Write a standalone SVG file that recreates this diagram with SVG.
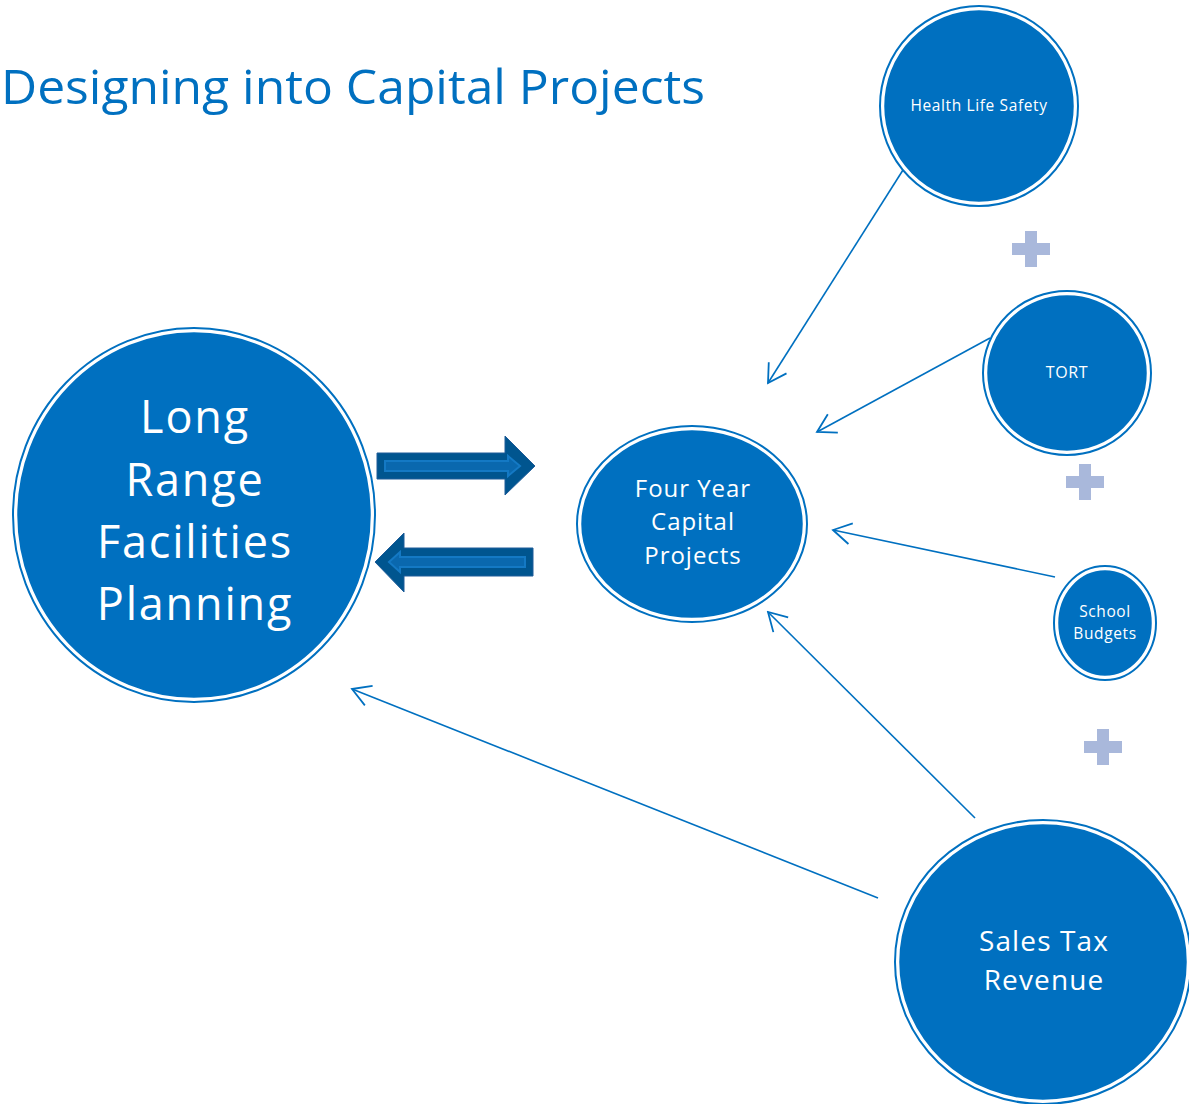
<svg xmlns="http://www.w3.org/2000/svg" width="1189" height="1104" viewBox="0 0 1189 1104">
  <defs>
    <style>
      .node-fill { fill: #0070C0; stroke: #FFFFFF; stroke-width: 2.5; }
      .node-ring { fill: none; stroke: #0070C0; stroke-width: 2; }
      .lbl { fill: #FFFFFF; font-family: "Open Sans", "DejaVu Sans", sans-serif; text-anchor: middle; letter-spacing: 0.04em; }
      .conn { fill: none; stroke: #0070C0; stroke-width: 1.6; marker-end: url(#openArrow); }
      .plus { fill: #A9B8DB; }
      .block { fill: #00558F; stroke: #1F5C99; stroke-width: 1; }
      .block-inner { fill: #0A68AE; stroke: #1479C4; stroke-width: 2; }
    </style>
    <marker id="openArrow" markerUnits="userSpaceOnUse" markerWidth="24" markerHeight="24" viewBox="0 0 24 24" refX="22" refY="12" orient="auto">
      <path d="M4,1.5 L22,12 L4,22.5" fill="none" stroke="#0070C0" stroke-width="1.8"/>
    </marker>
  </defs>
  <rect width="1189" height="1104" fill="#FFFFFF"/>

  <text x="1" y="104" font-family="Open Sans, DejaVu Sans, sans-serif" font-size="48" fill="#0070C0" textLength="704" lengthAdjust="spacingAndGlyphs">Designing into Capital Projects</text>

  <g id="connectors">
    <line class="conn" x1="903" y1="170" x2="768" y2="383"/>
    <line class="conn" x1="990" y1="338" x2="817" y2="432"/>
    <line class="conn" x1="1055" y1="577" x2="833" y2="530"/>
    <line class="conn" x1="975" y1="818" x2="768" y2="612"/>
    <line class="conn" x1="878" y1="898" x2="352" y2="689"/>
    <g id="arrow-right">
      <polygon class="block" points="377,453 505,453 505,436 535,466 505,495 505,479 377,479"/>
      <polygon class="block-inner" points="385,461 508,461 508,456 520,466 508,476 508,471 385,471"/>
    </g>
    <g id="arrow-left">
      <polygon class="block" points="533,548 404,548 404,533 375,562 404,592 404,576 533,576"/>
      <polygon class="block-inner" points="525,557 400,557 400,552 389,562 400,572 400,567 525,567"/>
    </g>
  </g>

  <g id="node-long-range">
    <ellipse class="node-ring" cx="194" cy="515" rx="181" ry="187"/>
    <ellipse class="node-fill" cx="194" cy="515" rx="178" ry="184"/>
    <text class="lbl" font-size="45" x="195" y="433">Long</text>
    <text class="lbl" font-size="45" x="195" y="496">Range</text>
    <text class="lbl" font-size="45" x="195" y="558">Facilities</text>
    <text class="lbl" font-size="45" x="195" y="620">Planning</text>
  </g>

  <g id="node-four-year">
    <ellipse class="node-ring" cx="692" cy="524" rx="115" ry="98"/>
    <ellipse class="node-fill" cx="692" cy="524" rx="112" ry="95"/>
    <text class="lbl" font-size="24" x="693" y="497">Four Year</text>
    <text class="lbl" font-size="24" x="693" y="530">Capital</text>
    <text class="lbl" font-size="24" x="693" y="564">Projects</text>
  </g>

  <g id="node-health">
    <ellipse class="node-ring" cx="979" cy="106" rx="99" ry="100"/>
    <ellipse class="node-fill" cx="979" cy="106" rx="96" ry="97"/>
    <text class="lbl" font-size="15.5" x="979" y="111">Health Life Safety</text>
  </g>

  <g id="node-tort">
    <ellipse class="node-ring" cx="1067" cy="373" rx="84" ry="82"/>
    <ellipse class="node-fill" cx="1067" cy="373" rx="81" ry="79"/>
    <text class="lbl" font-size="16" x="1067" y="378">TORT</text>
  </g>

  <g id="node-school">
    <ellipse class="node-ring" cx="1105" cy="623" rx="51" ry="57"/>
    <ellipse class="node-fill" cx="1105" cy="623" rx="48" ry="54"/>
    <text class="lbl" font-size="15.5" x="1105" y="617">School</text>
    <text class="lbl" font-size="15.5" x="1105" y="639">Budgets</text>
  </g>

  <g id="node-sales-tax">
    <ellipse class="node-ring" cx="1043" cy="962" rx="148" ry="142"/>
    <ellipse class="node-fill" cx="1043" cy="962" rx="145" ry="139"/>
    <text class="lbl" font-size="28" x="1044" y="951">Sales Tax</text>
    <text class="lbl" font-size="28" x="1044" y="990">Revenue</text>
  </g>

  <g id="plus-signs">
    <path class="plus" d="M1025,231 h12 v12 h13 v12 h-13 v12 h-12 v-12 h-13 v-12 h13 z"/>
    <path class="plus" d="M1079,464 h12 v12 h13 v12 h-13 v12 h-12 v-12 h-13 v-12 h13 z"/>
    <path class="plus" d="M1097,729 h12 v12 h13 v12 h-13 v12 h-12 v-12 h-13 v-12 h13 z"/>
  </g>
</svg>
